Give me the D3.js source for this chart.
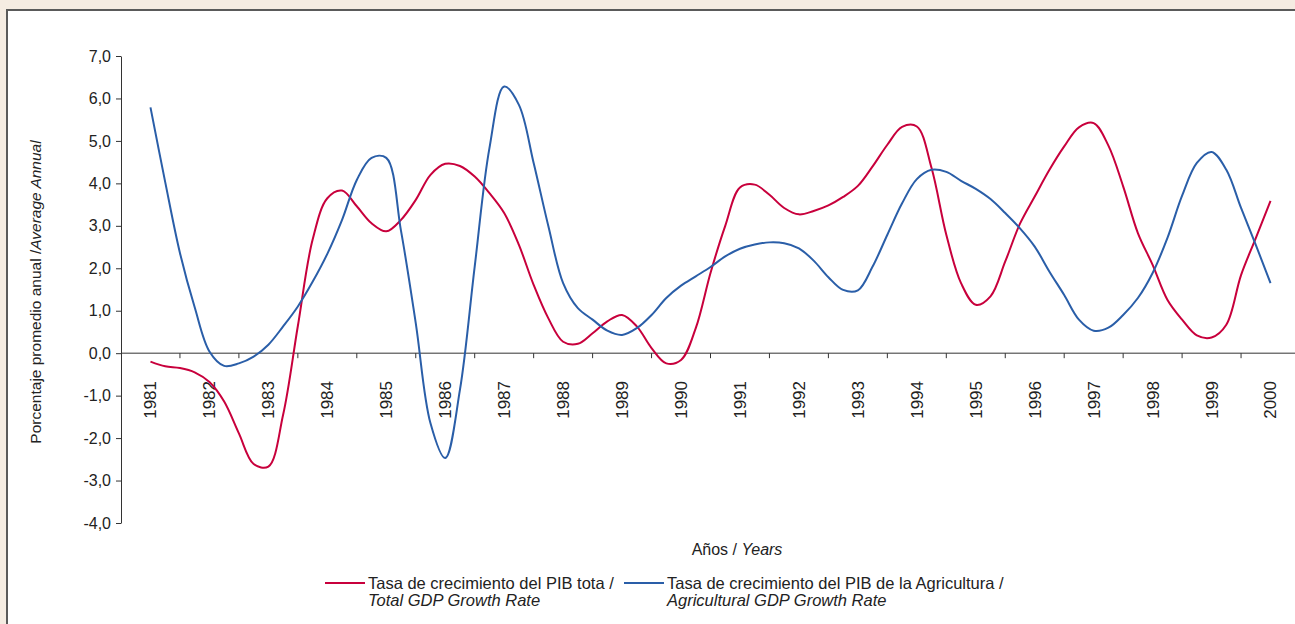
<!DOCTYPE html>
<html>
<head>
<meta charset="utf-8">
<script src="https://cdn.jsdelivr.net/npm/d3@7"></script>
<style>
  body { margin: 0; background: #f5ece2; }
  svg text { font-family: "Liberation Sans", Arial, sans-serif; fill: #222; }
</style>
</head>
<body>
<div id="chart-area"></div>
<script>
// category labels on the x axis
const years = ["1981","1982","1983","1984","1985","1986","1987","1988","1989","1990",
               "1991","1992","1993","1994","1995","1996","1997","1998","1999","2000"];

// readings every quarter of a year, 1981.0 .. 2000.0
const periods = d3.range(1981, 2000.001, 0.25);

const totalGdp = [
  -0.20, -0.31, -0.35, -0.45,
  -0.68, -1.14, -1.89, -2.61,
  -2.67, -1.45,  0.64,  2.67,
   3.65,  3.83,  3.46,  3.06,
   2.87,  3.14,  3.61,  4.20,
   4.46,  4.41,  4.16,  3.77,
   3.30,  2.55,  1.61,  0.82,
   0.27,  0.22,  0.47,  0.75,
   0.90,  0.63,  0.12, -0.24,
  -0.16,  0.59,  1.89,  3.00,
   3.90,  3.97,  3.73,  3.42,
   3.27,  3.35,  3.48,  3.68,
   3.94,  4.40,  4.91,  5.33,
   5.34,  4.36,  2.79,  1.65,
   1.14,  1.34,  2.16,  3.05,
   3.69,  4.32,  4.87,  5.32,
   5.42,  4.89,  3.93,  2.83,
   2.08,  1.26,  0.79,  0.42,
   0.37,  0.67,  1.84,  2.71,
   3.59
];

const agriGdp = [
   5.79,  4.03,  2.36,  1.08,
   0.04, -0.30, -0.24, -0.08,
   0.20,  0.63,  1.10,  1.68,
   2.34,  3.14,  4.08,  4.60,
   4.60,  2.88,  0.71, -1.65,
  -2.47, -0.86,  2.04,  4.83,
   6.28,  5.85,  4.48,  2.99,
   1.65,  1.06,  0.79,  0.53,
   0.43,  0.59,  0.90,  1.30,
   1.59,  1.81,  2.03,  2.28,
   2.46,  2.56,  2.61,  2.59,
   2.47,  2.18,  1.79,  1.49,
   1.48,  2.04,  2.79,  3.53,
   4.10,  4.32,  4.27,  4.06,
   3.87,  3.63,  3.30,  2.94,
   2.51,  1.92,  1.37,  0.79,
   0.53,  0.60,  0.90,  1.30,
   1.89,  2.71,  3.71,  4.48,
   4.74,  4.32,  3.42,  2.55,
   1.65
];

const yTicks = [-4, -3, -2, -1, 0, 1, 2, 3, 4, 5, 6, 7];

const seriesNames = [
  ["Tasa de crecimiento del PIB tota /", "Total GDP Growth Rate"],
  ["Tasa de crecimiento del PIB de la Agricultura /", "Agricultural GDP Growth Rate"]
];
const colors = ["#c8003c", "#2a5ea8"];

const W = 1295, H = 624;
const plot = {left: 121, right: 1300, top: 56, bottom: 523};

const svg = d3.select('#chart-area')
  .append('svg')
  .attr('width', W)
  .attr('height', H);

// white panel with a dark frame
svg.append('rect')
  .attr('x', 7).attr('y', 10)
  .attr('width', 1320).attr('height', 700)
  .attr('fill', '#fff')
  .attr('stroke', '#5a5a5a')
  .attr('stroke-width', 2);

const xBand = d3.scaleBand()
  .domain(years)
  .range([plot.left, plot.right]);

const x = d3.scaleLinear()
  .domain([1980.5, 2000.5])
  .range([plot.left, plot.right]);

const y = d3.scaleLinear()
  .domain([-4, 7])
  .range([plot.bottom, plot.top]);

const fmt = d3.formatLocale({decimal: ",", thousands: ".", grouping: [3], currency: ["", ""], minus: "-"}).format(".1f");

// y axis
const yAxis = svg.append('g')
  .attr('transform', `translate(${plot.left},0)`)
  .call(d3.axisLeft(y).tickValues(yTicks).tickFormat(fmt).tickSize(5).tickSizeOuter(0).tickPadding(5));
yAxis.select('.domain').attr('stroke', '#333');
yAxis.selectAll('.tick line').attr('stroke', '#333');
yAxis.selectAll('.tick text').style('font-size', '16px');

// x axis at zero, ticks between categories
const xAxis = svg.append('g').attr('transform', `translate(0,${y(0)})`);
xAxis.append('line')
  .attr('x1', plot.left).attr('x2', plot.right)
  .attr('stroke', '#333');
xAxis.selectAll('.xtick')
  .data(years.slice(1))
  .enter().append('line')
  .attr('x1', d => xBand(d)).attr('x2', d => xBand(d))
  .attr('y1', 0).attr('y2', 5)
  .attr('stroke', '#333');

svg.selectAll('.year')
  .data(years)
  .enter().append('text')
  .attr('transform', d => `translate(${xBand(d) + xBand.bandwidth() / 2},381) rotate(-90)`)
  .attr('text-anchor', 'end')
  .attr('dy', '0.35em')
  .style('font-size', '17px')
  .text(d => d);

// lines
const line = d3.line()
  .x(d => x(d[0]))
  .y(d => y(d[1]))
  .curve(d3.curveCatmullRom);

[totalGdp, agriGdp].forEach((vals, i) => {
  svg.append('path')
    .datum(periods.map((p, j) => [p, vals[j]]))
    .attr('d', line)
    .attr('fill', 'none')
    .attr('stroke', colors[i])
    .attr('stroke-width', 2);
});

// axis titles
const yt = svg.append('text')
  .attr('transform', `translate(41,292) rotate(-90)`)
  .attr('text-anchor', 'middle')
  .style('font-size', '15.5px');
yt.append('tspan').text('Porcentaje promedio anual /');
yt.append('tspan').style('font-style', 'italic').text('Average Annual');

const xt = svg.append('text')
  .attr('x', 737).attr('y', 555)
  .attr('text-anchor', 'middle')
  .style('font-size', '16px');
xt.append('tspan').text('Años / ');
xt.append('tspan').style('font-style', 'italic').text('Years');

// legend
const legendX = [325, 624];
seriesNames.forEach((names, i) => {
  const g = svg.append('g').attr('transform', `translate(${legendX[i]},583)`);
  g.append('line')
    .attr('x1', 0).attr('x2', 40)
    .attr('stroke', colors[i]).attr('stroke-width', 2);
  g.append('text')
    .attr('x', 43).attr('y', 6)
    .style('font-size', '16.5px')
    .text(names[0]);
  g.append('text')
    .attr('x', 43).attr('y', 23)
    .style('font-size', '16.5px')
    .style('font-style', 'italic')
    .text(names[1]);
});
</script>
</body>
</html>
